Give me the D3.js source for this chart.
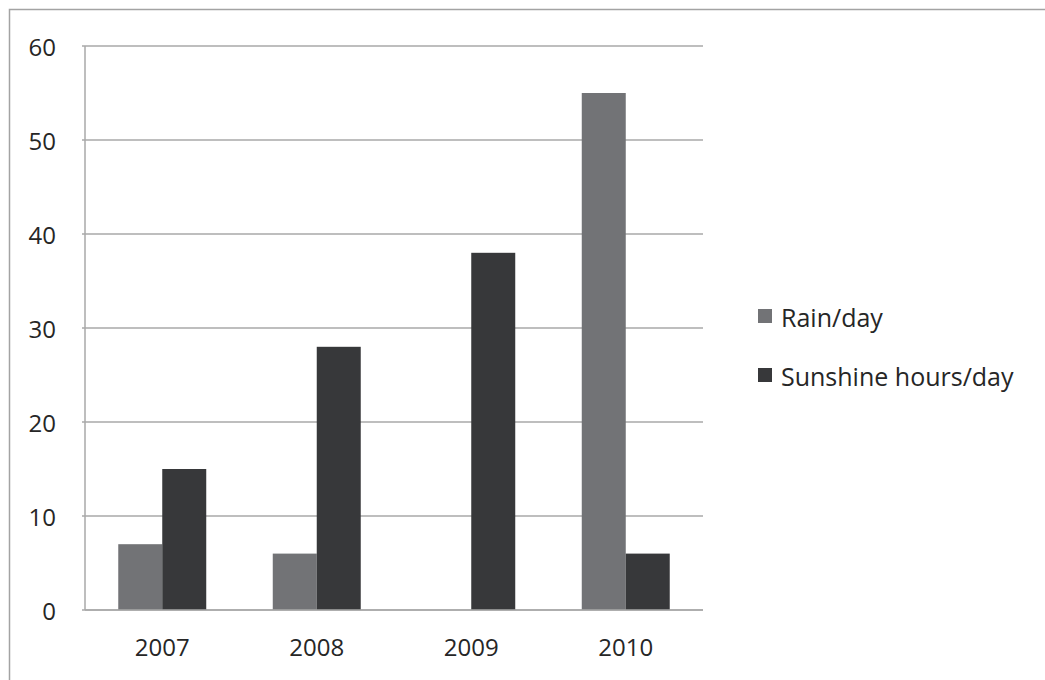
<!DOCTYPE html>
<html>
<head>
<meta charset="utf-8">
<script src="https://cdn.jsdelivr.net/npm/d3@7"></script>
<style>
  body { margin: 0; background: #fff; }
  text { font-family: "Open Sans", sans-serif; fill: #262626; }
</style>
</head>
<body>
<svg id="chart" width="1045" height="680"></svg>
<script>
// chart data
var years = ["2007", "2008", "2009", "2010"]
var seriesNames = ["Rain/day", "Sunshine hours/day"]
var rainPerDay = [7, 6, 0, 55]
var sunshinePerDay = [15, 28, 38, 6]
var yTicks = [0, 10, 20, 30, 40, 50, 60]
var colors = ["#727376", "#37383a"]

var svg = d3.select("#chart")

// outer frame (only top and left edges show in the picture)
svg.append("path")
  .attr("d", "M9.5,700 V9.5 H1060")
  .attr("fill", "none")
  .attr("stroke", "#a3a3a3")
  .attr("stroke-width", 1.5)

// plot box (don't call it "top", that's window.top)
var plotL = 85, plotR = 703, plotT = 46, plotB = 610

var x = d3.scaleBand().domain(years).range([plotL, plotR]).paddingInner(0).paddingOuter(0)
// bars are ~44px inside a ~154px band
var x1 = d3.scaleBand().domain(seriesNames).range([0, x.bandwidth()]).paddingInner(0).paddingOuter(0.756)
var y = d3.scaleLinear().domain([0, 60]).range([plotB, plotT])

// gridlines + y labels
var yAxis = svg.append("g")
yAxis.selectAll("line").data(yTicks).enter().append("line")
  .attr("x1", plotL - 3).attr("x2", plotR)
  .attr("y1", function(d) { return y(d) }).attr("y2", function(d) { return y(d) })
  .attr("stroke", "#a8a8a8").attr("stroke-width", 1.5)
yAxis.selectAll("text").data(yTicks).enter().append("text")
  .attr("x", 56).attr("y", function(d) { return y(d) + 2 })
  .attr("dy", "0.35em")
  .attr("text-anchor", "end")
  .style("font-size", "24px")
  .text(function(d) { return d })

// bars
var rows = years.map(function(yr, i) { return { year: yr, values: [rainPerDay[i], sunshinePerDay[i]] } })
var groups = svg.selectAll("g.year").data(rows).enter().append("g")
  .attr("class", "year")
  .attr("transform", function(d) { return "translate(" + x(d.year) + ",0)" })
groups.selectAll("rect").data(function(d) {
    return d.values.map(function(v, j) { return { name: seriesNames[j], value: v, idx: j } })
  }).enter().append("rect")
  .attr("x", function(d) { return x1(d.name) })
  .attr("width", x1.bandwidth())
  .attr("y", function(d) { return y(d.value) })
  .attr("height", function(d) { return y(0) - y(d.value) })
  .attr("fill", function(d) { return colors[d.idx] })

// axis lines on top of bars
svg.append("line").attr("x1", plotL).attr("x2", plotL).attr("y1", plotT).attr("y2", plotB)
  .attr("stroke", "#a8a8a8").attr("stroke-width", 1.5)
svg.append("line").attr("x1", plotL).attr("x2", plotR).attr("y1", plotB).attr("y2", plotB)
  .attr("stroke", "#a8a8a8").attr("stroke-width", 1.5)

// x labels
svg.selectAll("text.xlab").data(years).enter().append("text")
  .attr("class", "xlab")
  .attr("x", function(d) { return x(d) + x.bandwidth() / 2 })
  .attr("y", 648).attr("dy", "0.35em")
  .attr("text-anchor", "middle")
  .style("font-size", "24px")
  .text(function(d) { return d })

// legend
var legend = svg.selectAll("g.legend").data(seriesNames).enter().append("g")
  .attr("class", "legend")
  .attr("transform", function(d, i) { return "translate(758," + (316 + i * 59) + ")" })
legend.append("rect").attr("x", 0).attr("y", -7).attr("width", 14).attr("height", 14)
  .attr("fill", function(d, i) { return colors[i] })
legend.append("text").attr("x", 23).attr("y", 2).attr("dy", "0.35em")
  .style("font-size", "25px")
  .text(function(d) { return d })
</script>
</body>
</html>
